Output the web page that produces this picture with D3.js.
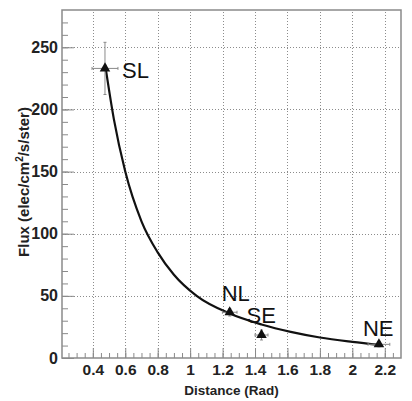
<!DOCTYPE html>
<html>
<head>
<meta charset="utf-8">
<script src="https://cdn.jsdelivr.net/npm/d3@7"></script>
<style>
  body { margin: 0; background: #fff; }
  svg { display: block; font-family: "Liberation Sans", Arial, sans-serif; }
</style>
</head>
<body>
<svg id="chart" width="412" height="401"></svg>
<script>
// data
const regions   = ['SL', 'NL', 'SE', 'NE'];
const distance  = [0.475, 1.244, 1.44, 2.164];
const distErr   = [0.08, 0.045, 0.04, 0.067];
const flux      = [233, 36.8, 18.5, 11];
const fluxErr   = [21, 3, 4, 2];

// fitted curve
const fitX = [0.476, 0.53, 0.6, 0.7, 0.8, 0.9, 1.04, 1.24, 1.44, 1.62, 1.8, 2.0, 2.17];
const fitY = [236, 192, 150, 110, 85, 67, 50, 36, 27, 21, 16.5, 13, 10.5];

const xTicks = [0.4, 0.6, 0.8, 1, 1.2, 1.4, 1.6, 1.8, 2, 2.2];
const yTicks = [0, 50, 100, 150, 200, 250];

const svg = d3.select('#chart');
const W = 412, H = 401;
const m = { left: 62, right: 11, top: 10, bottom: 43 };

const x = d3.scaleLinear().domain([0.21, 2.3]).range([m.left, W - m.right]);
const y = d3.scaleLinear().domain([0, 280]).range([H - m.bottom, m.top]);

const gridColor = '#8c8c8c';
const axisColor = '#8a8a8a';
const px = v => Math.round(v) + 0.5;

// grid (dotted)
const grid = svg.append('g')
    .attr('stroke', gridColor).attr('stroke-width', 1)
    .attr('stroke-dasharray', '1,2').attr('shape-rendering', 'crispEdges');

grid.selectAll('line.vg')
    .data(xTicks).enter().append('line')
    .attr('x1', d => px(x(d))).attr('x2', d => px(x(d)))
    .attr('y1', y.range()[0]).attr('y2', y.range()[1]);

grid.selectAll('line.hg')
    .data(yTicks.filter(d => d > 0)).enter().append('line')
    .attr('x1', x.range()[0]).attr('x2', x.range()[1])
    .attr('y1', d => px(y(d))).attr('y2', d => px(y(d)));

// frame
svg.append('rect')
    .attr('x', m.left).attr('y', m.top)
    .attr('width', W - m.left - m.right).attr('height', H - m.top - m.bottom)
    .attr('fill', 'none').attr('stroke', axisColor).attr('stroke-width', 1.5);

// x axis: ticks pointing up, into the frame
const xMinor = d3.range(0.25, 2.3, 0.05);
svg.append('g')
    .attr('transform', `translate(0,${y(0)})`)
    .call(d3.axisBottom(x).tickValues(xMinor).tickSize(-5).tickFormat(''))
    .call(g => g.select('.domain').remove())
    .call(g => g.selectAll('line').attr('stroke', axisColor));

svg.append('g')
    .attr('transform', `translate(0,${y(0)})`)
    .call(d3.axisBottom(x).tickValues(xTicks).tickSize(-10).tickPadding(12.5)
        .tickFormat(d => String(+d.toFixed(1))))
    .call(g => g.select('.domain').remove())
    .call(g => g.selectAll('line').attr('stroke', axisColor))
    .call(g => g.selectAll('text')
        .attr('font-size', 15.5).attr('font-weight', 'bold')
        .attr('fill', '#222').attr('dy', '0.3em'));

// y axis: ticks pointing right
const yMinor = d3.range(10, 280, 10);
svg.append('g')
    .attr('transform', `translate(${x.range()[0]},0)`)
    .call(d3.axisLeft(y).tickValues(yMinor).tickSize(-6).tickFormat(''))
    .call(g => g.select('.domain').remove())
    .call(g => g.selectAll('line').attr('stroke', axisColor));

svg.append('g')
    .attr('transform', `translate(${x.range()[0]},0)`)
    .call(d3.axisLeft(y).tickValues(yTicks).tickSize(-12).tickPadding(4))
    .call(g => g.select('.domain').remove())
    .call(g => g.selectAll('line').attr('stroke', axisColor))
    .call(g => g.selectAll('text')
        .attr('font-size', 16).attr('font-weight', 'bold').attr('fill', '#222'));

// axis titles
svg.append('text')
    .attr('x', (x.range()[0] + x.range()[1]) / 2)
    .attr('y', 395)
    .attr('text-anchor', 'middle')
    .attr('font-size', 13.5).attr('font-weight', 'bold').attr('fill', '#222')
    .text('Distance (Rad)');

const yt = svg.append('text')
    .attr('transform', `translate(29,182) rotate(-90)`)
    .attr('text-anchor', 'middle')
    .attr('font-size', 15).attr('font-weight', 'bold').attr('fill', '#222');
yt.append('tspan').text('Flux (elec/cm');
yt.append('tspan').attr('font-size', 10).attr('dy', -6).text('2');
yt.append('tspan').attr('dy', 6).text('/s/ster)');

// fit curve
const line = d3.line()
    .x(i => x(fitX[i]))
    .y(i => y(fitY[i]))
    .curve(d3.curveMonotoneX);

svg.append('path')
    .attr('d', line(d3.range(fitX.length)))
    .attr('fill', 'none')
    .attr('stroke', '#111')
    .attr('stroke-width', 2.2);

// error bars
const pts = regions.map((r, i) => ({
    name: r, x: distance[i], ex: distErr[i], y: flux[i], ey: fluxErr[i]
}));

const eb = svg.append('g').attr('stroke', '#8a8a8a').attr('stroke-width', 1);
pts.forEach(p => {
    eb.append('line')
        .attr('x1', x(p.x - p.ex)).attr('x2', x(p.x + p.ex))
        .attr('y1', y(p.y)).attr('y2', y(p.y));
    eb.append('line')
        .attr('x1', x(p.x)).attr('x2', x(p.x))
        .attr('y1', y(p.y - p.ey)).attr('y2', y(p.y + p.ey));
    // caps
    [p.x - p.ex, p.x + p.ex].forEach(v => eb.append('line')
        .attr('x1', x(v)).attr('x2', x(v))
        .attr('y1', y(p.y) - 1.5).attr('y2', y(p.y) + 1.5));
    [p.y - p.ey, p.y + p.ey].forEach(v => eb.append('line')
        .attr('x1', x(p.x) - 1.5).attr('x2', x(p.x) + 1.5)
        .attr('y1', y(v)).attr('y2', y(v)));
});

// markers
svg.append('g').selectAll('path.mk')
    .data(pts).enter().append('path')
    .attr('transform', d => `translate(${x(d.x)},${y(d.y)})`)
    .attr('d', d3.symbol().type(d3.symbolTriangle).size(48))
    .attr('fill', '#111');

// point labels
const labelOffset = { SL: [17, 10], NL: [-8, -11], SE: [-15, -12], NE: [-16, -8] };
svg.append('g').selectAll('text.lbl')
    .data(pts).enter().append('text')
    .attr('x', d => x(d.x) + labelOffset[d.name][0])
    .attr('y', d => y(d.y) + labelOffset[d.name][1])
    .attr('font-size', 22)
    .attr('fill', '#111')
    .text(d => d.name);
</script>
</body>
</html>
